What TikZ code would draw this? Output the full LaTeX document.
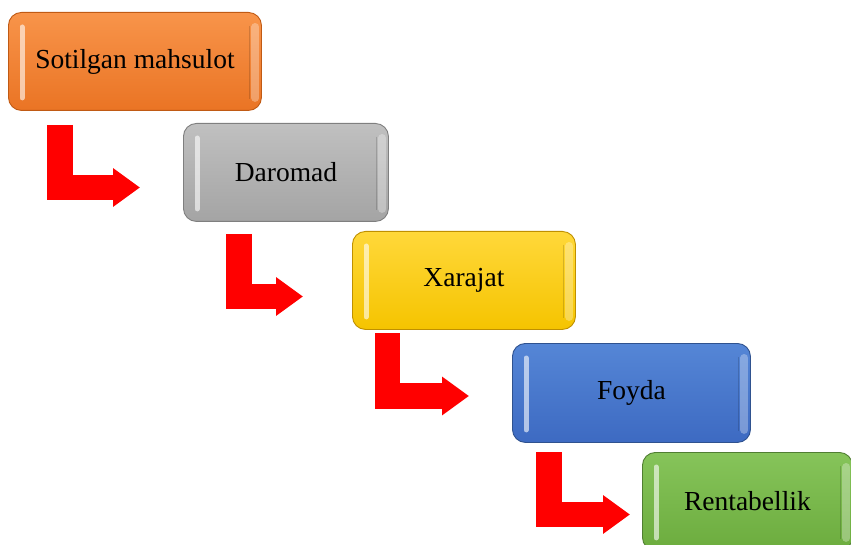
\documentclass[tikz,border=0pt]{standalone}
\usepackage{fontspec}
\setmainfont{Liberation Serif}
\usetikzlibrary{arrows.meta}
\definecolor{orT}{HTML}{F8944A}\definecolor{orB}{HTML}{EA7424}\definecolor{orD}{HTML}{C05A14}
\definecolor{grT}{HTML}{C0C0C0}\definecolor{grB}{HTML}{A4A4A4}\definecolor{grD}{HTML}{7F7F7F}
\definecolor{yeT}{HTML}{FFD83A}\definecolor{yeB}{HTML}{F5C400}\definecolor{yeD}{HTML}{BF9000}
\definecolor{blT}{HTML}{5586D6}\definecolor{blB}{HTML}{3D6AC2}\definecolor{blD}{HTML}{2F528F}
\definecolor{gnT}{HTML}{86C45A}\definecolor{gnB}{HTML}{6CAC3E}\definecolor{gnD}{HTML}{507E32}
\definecolor{arrowred}{HTML}{FF0000}
\begin{document}
\begin{tikzpicture}[x=1pt,y=-1pt,
  box/.style={rounded corners=13pt, line width=0.9pt, inner sep=0pt, anchor=north west,
    font=\fontsize{27.5}{30}\selectfont, text=black},
  shine/.style={white, opacity=0.6, line width=5pt, line cap=round},
  rim/.style={white, opacity=0.3, line width=8pt, line cap=round},
  rimedge/.style={black, opacity=0.15, line width=1pt},
  bent/.style={arrowred, line width=25.5pt, line join=miter,
    -{Triangle[width=37pt,length=27pt]}}]
\useasboundingbox (0,0) rectangle (851,545);
\clip (0,0) rectangle (851,545);
% boxes
\node[box, minimum width=253pt, minimum height=98pt, top color=orT, bottom color=orB, draw=orD] (b1) at (8,12) {Sotilgan mahsulot};
\node[box, minimum width=205pt, minimum height=98pt, top color=grT, bottom color=grB, draw=grD] (b2) at (183,123) {Daromad};
\node[box, minimum width=223pt, minimum height=98pt, top color=yeT, bottom color=yeB, draw=yeD] (b3) at (352,231) {Xarajat};
\node[box, minimum width=238pt, minimum height=99pt, top color=blT, bottom color=blB, draw=blD] (b4) at (512,343) {Foyda};
\node[box, minimum width=210pt, minimum height=98pt, top color=gnT, bottom color=gnB, draw=gnD] (b5) at (642,452) {Rentabellik};
% bevel highlights
\foreach \b in {b1,b2,b3,b4,b5}{
  \draw[shine] ([xshift=14pt,yshift=-15pt]\b.north west) -- ([xshift=14pt,yshift=13pt]\b.south west);
  \draw[rim] ([xshift=-6.5pt,yshift=-15pt]\b.north east) -- ([xshift=-6.5pt,yshift=13pt]\b.south east);
  \draw[rimedge] ([xshift=-12pt,yshift=-14pt]\b.north east) -- ([xshift=-12pt,yshift=12pt]\b.south east);
}
% arrow end points
\coordinate (a1s) at (60,125);   \coordinate (a1e) at (140,187.5);
\coordinate (a2s) at (239,234);  \coordinate (a2e) at (303,296.5);
\coordinate (a3s) at (387.5,333);\coordinate (a3e) at (469,396);
\coordinate (a4s) at (549,452);  \coordinate (a4e) at (630,514.5);
\draw[bent] (a1s) |- (a1e);
\draw[bent] (a2s) |- (a2e);
\draw[bent] (a3s) |- (a3e);
\draw[bent] (a4s) |- (a4e);
\end{tikzpicture}
\end{document}
